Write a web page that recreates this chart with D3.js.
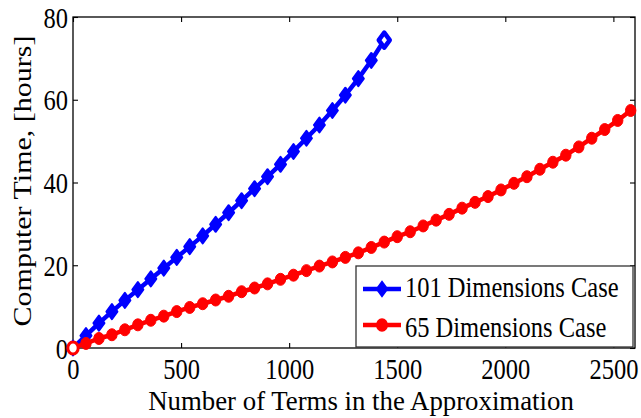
<!DOCTYPE html>
<html>
<head>
<meta charset="utf-8">
<script src="https://cdn.jsdelivr.net/npm/d3@7"></script>
<style>
  body { margin: 0; background: #fff; }
  svg { display: block; }
  text { font-family: "Liberation Serif", "Times New Roman", serif; fill: #000; }
</style>
</head>
<body>
<svg id="chart" width="641" height="418"></svg>
<script>
// Number of terms in the approximation and computing time for each case
const termsBlue = [0, 60, 120, 180, 240, 300, 360, 420, 480, 540, 600, 660, 720, 780, 840, 900,
  960, 1020, 1080, 1140, 1200, 1260, 1320, 1380, 1440];
const hoursBlue = [0, 3.0, 6.0, 8.8, 11.5, 14.1, 16.7, 19.3, 21.9, 24.5, 27.1, 29.9, 32.7, 35.6,
  38.5, 41.4, 44.4, 47.5, 50.7, 53.9, 57.4, 61.1, 65.1, 69.5, 74.4];

const termsRed = [0, 60, 120, 180, 240, 300, 360, 420, 480, 540, 600, 660, 720, 780, 840, 900,
  960, 1020, 1080, 1140, 1200, 1260, 1320, 1380, 1440, 1500, 1560, 1620, 1680, 1740, 1800, 1860,
  1920, 1980, 2040, 2100, 2160, 2220, 2280, 2340, 2400, 2460, 2520, 2580];
const hoursRed = [0, 1.1, 2.3, 3.2, 4.4, 5.6, 6.7, 7.7, 8.8, 9.8, 10.7, 11.6, 12.5, 13.6, 14.5,
  15.5, 16.6, 17.6, 18.7, 19.8, 20.8, 21.9, 23.0, 24.3, 25.6, 26.9, 28.1, 29.5, 30.9, 32.3, 33.8,
  35.2, 36.6, 38.2, 39.8, 41.4, 43.2, 44.9, 46.6, 48.6, 50.7, 52.8, 55.0, 57.4];

const seriesNames = ["101 Dimensions Case", "65 Dimensions Case"];
const xTicks = [0, 500, 1000, 1500, 2000, 2500];
const yTicks = [0, 20, 40, 60, 80];
const xLabel = "Number of Terms in the Approximation";
const yLabel = "Computer Time, [hours]";

const svg = d3.select("#chart");
const plotLeft = 73, plotRight = 635, plotTop = 17, plotBottom = 348;
const FS = 24.5;        // tick and legend font size
const SY = 1.2;         // vertical stretch of the glyphs

const x = d3.scaleLinear().domain([0, 2600]).range([plotLeft, plotRight]);
const y = d3.scaleLinear().domain([0, 80]).range([plotBottom, plotTop]);

// Frame
svg.append("rect")
  .attr("x", plotLeft).attr("y", plotTop)
  .attr("width", plotRight - plotLeft).attr("height", plotBottom - plotTop)
  .attr("fill", "none").attr("stroke", "#000").attr("stroke-width", 1.3);

// Axes with inward ticks
function styleAxis(g) {
  g.select(".domain").remove();
  g.selectAll(".tick line").attr("stroke", "#000").attr("stroke-width", 1.1);
}

const gx = svg.append("g").attr("transform", `translate(0,${plotBottom})`)
  .call(d3.axisBottom(x).tickValues(xTicks).tickSizeInner(-5).tickSizeOuter(0).tickFormat(d3.format("d")))
  .call(styleAxis);
gx.selectAll(".tick text")
  .attr("y", null).attr("dy", null)
  .attr("font-size", FS)
  .attr("text-anchor", "middle")
  .attr("transform", `translate(0,31.3) scale(1,${SY})`);

svg.append("g").attr("transform", `translate(0,${plotTop})`)
  .call(d3.axisTop(x).tickValues(xTicks).tickSizeInner(-5).tickSizeOuter(0).tickFormat(""))
  .call(styleAxis);

const gy = svg.append("g").attr("transform", `translate(${plotLeft},0)`)
  .call(d3.axisLeft(y).tickValues(yTicks).tickSizeInner(-5).tickSizeOuter(0).tickFormat(d3.format("d")))
  .call(styleAxis);
gy.selectAll(".tick text")
  .attr("x", null).attr("dy", null)
  .attr("font-size", FS)
  .attr("text-anchor", "end")
  .attr("transform", `translate(-5,10) scale(1,${SY})`);

svg.append("g").attr("transform", `translate(${plotRight},0)`)
  .call(d3.axisRight(y).tickValues(yTicks).tickSizeInner(-5).tickSizeOuter(0).tickFormat(""))
  .call(styleAxis);

// Axis titles
svg.append("text")
  .attr("font-size", 26.8)
  .attr("text-anchor", "middle")
  .attr("transform", `translate(361,410)`)
  .text(xLabel);

svg.append("text")
  .attr("font-size", 25)
  .attr("text-anchor", "middle")
  .attr("transform", `translate(31,181) scale(1,${SY}) rotate(-90)`)
  .text(yLabel);

// Marker shapes
const diamond = "M0,-7.5L5.5,0L0,7.5L-5.5,0Z";
function ellipsePath(rx, ry) {
  return `M${-rx},0A${rx},${ry} 0 1,0 ${rx},0A${rx},${ry} 0 1,0 ${-rx},0Z`;
}
const dot = ellipsePath(5.2, 6);

const line = d3.line().x(d => x(d[0])).y(d => y(d[1]));
const blueData = termsBlue.map((t, i) => [t, hoursBlue[i]]);
const redData = termsRed.map((t, i) => [t, hoursRed[i]]);

// 101 dimensions case (final point drawn as an open marker)
svg.append("path").datum(blueData)
  .attr("d", line).attr("fill", "none")
  .attr("stroke", "#0000ff").attr("stroke-width", 4.5).attr("stroke-linejoin", "round");
svg.append("g").selectAll("path").data(blueData).join("path")
  .attr("transform", d => `translate(${x(d[0])},${y(d[1])})`)
  .attr("d", diamond)
  .attr("fill", (d, i) => i === blueData.length - 1 ? "#fff" : "#0000ff")
  .attr("stroke", "#0000ff").attr("stroke-width", (d, i) => i === blueData.length - 1 ? 4.5 : 2)
  .attr("stroke-linejoin", "round");

// 65 dimensions case (first point drawn as an open marker)
svg.append("path").datum(redData)
  .attr("d", line).attr("fill", "none")
  .attr("stroke", "#ff0000").attr("stroke-width", 4.5).attr("stroke-linejoin", "round");
svg.append("g").selectAll("path").data(redData).join("path")
  .attr("transform", d => `translate(${x(d[0])},${y(d[1])})`)
  .attr("d", dot)
  .attr("fill", (d, i) => i === 0 ? "#fff" : "#ff0000")
  .attr("stroke", "#ff0000").attr("stroke-width", (d, i) => i === 0 ? 3 : 1);

// Legend
const lg = svg.append("g");
lg.append("rect")
  .attr("x", 356).attr("y", 266).attr("width", 277).attr("height", 81)
  .attr("fill", "#fff").attr("stroke", "#333").attr("stroke-width", 1.3);
const legendItems = [
  { name: seriesNames[0], color: "#0000ff", shape: diamond, ly: 289, ty: 296.5, lw: 4.5 },
  { name: seriesNames[1], color: "#ff0000", shape: dot, ly: 325, ty: 336.5, lw: 4.5 }
];
legendItems.forEach(it => {
  lg.append("line")
    .attr("x1", 363).attr("x2", 401).attr("y1", it.ly).attr("y2", it.ly)
    .attr("stroke", it.color).attr("stroke-width", it.lw);
  lg.append("path")
    .attr("transform", `translate(382,${it.ly})`)
    .attr("d", it.shape).attr("fill", it.color)
    .attr("stroke", it.color).attr("stroke-width", 1.5);
  lg.append("text")
    .attr("font-size", FS)
    .attr("transform", `translate(405,${it.ty}) scale(1,${SY})`)
    .text(it.name);
});
</script>
</body>
</html>
